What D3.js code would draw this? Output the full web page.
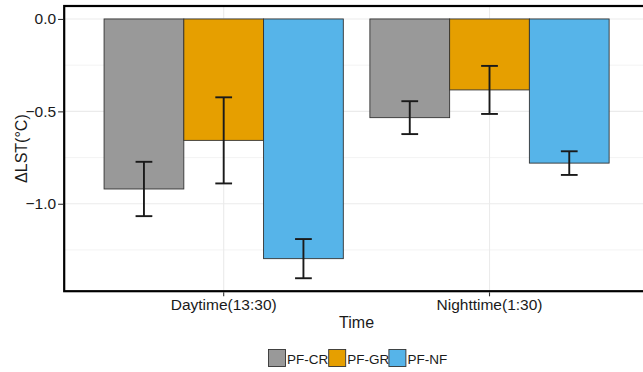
<!DOCTYPE html>
<html>
<head>
<meta charset="utf-8">
<script src="https://cdn.jsdelivr.net/npm/d3@7"></script>
<style>
  html, body { margin: 0; padding: 0; background: #fff; }
  svg { display: block; }
  text { font-family: "Liberation Sans", Arial, sans-serif; fill: #1a1a1a; }
</style>
</head>
<body>
<svg id="chart" width="643" height="372"></svg>
<script>
// Land surface temperature difference by observation time and conversion type
const times = ["Daytime(13:30)", "Nighttime(1:30)"];
const groups = ["PF-CR", "PF-GR", "PF-NF"];
const groupColors = ["#999999", "#E69F00", "#56B4E9"];
// mean ΔLST (°C), one array per group, ordered as `times`
const meanCR = [-0.92, -0.534];
const meanGR = [-0.657, -0.384];
const meanNF = [-1.297, -0.78];
// standard error, same layout
const seCR = [0.147, 0.089];
const seGR = [0.233, 0.13];
const seNF = [0.106, 0.064];
const yTicks = [0.0, -0.5, -1.0];
const yMinor = [-0.25, -0.75, -1.25];

const means = [meanCR, meanGR, meanNF];
const ses = [seCR, seGR, seNF];
const rows = [];
times.forEach((t, i) => groups.forEach((g, j) => {
  rows.push({ time: t, group: g, color: groupColors[j], mean: means[j][i], se: ses[j][i] });
}));

const svg = d3.select("#chart");
const panel = { left: 64.2, top: 6, right: 649, bottom: 291.2 };

// y extent covers bars and error bars, padded by 5%
const lo = d3.min(rows, d => d.mean - d.se);
const hi = 0;
const pad = (hi - lo) * 0.05;
const y = d3.scaleLinear().domain([lo - pad, hi + pad]).range([panel.bottom, panel.top]);

const x = d3.scaleBand().domain(times).range([panel.left, panel.right])
  .paddingInner(0.1).paddingOuter(0.15);
const xg = d3.scaleBand().domain(groups).range([0, x.bandwidth()]).padding(0);

// grid
const grid = svg.append("g");
grid.selectAll("line.minor").data(yMinor).join("line")
  .attr("x1", panel.left).attr("x2", panel.right)
  .attr("y1", d => y(d)).attr("y2", d => y(d))
  .attr("stroke", "#f0f0f0").attr("stroke-width", 0.8);
grid.selectAll("line.major").data(yTicks).join("line")
  .attr("x1", panel.left).attr("x2", panel.right)
  .attr("y1", d => y(d)).attr("y2", d => y(d))
  .attr("stroke", "#ebebeb").attr("stroke-width", 1.1);
grid.selectAll("line.vx").data(times).join("line")
  .attr("x1", d => x(d) + x.bandwidth() / 2).attr("x2", d => x(d) + x.bandwidth() / 2)
  .attr("y1", panel.top).attr("y2", panel.bottom)
  .attr("stroke", "#ebebeb").attr("stroke-width", 1.1);

// bars
svg.append("g").selectAll("rect").data(rows).join("rect")
  .attr("x", d => x(d.time) + xg(d.group))
  .attr("width", xg.bandwidth())
  .attr("y", d => y(0))
  .attr("height", d => y(d.mean) - y(0))
  .attr("fill", d => d.color)
  .attr("stroke", "#333333").attr("stroke-width", 0.9);

// error bars
const capW = xg.bandwidth() * 0.21;
const eb = svg.append("g").attr("stroke", "#1a1a1a").attr("stroke-width", 1.9).attr("fill", "none");
rows.forEach(d => {
  const cx = x(d.time) + xg(d.group) + xg.bandwidth() / 2;
  const y1 = y(d.mean + d.se), y2 = y(d.mean - d.se);
  eb.append("line").attr("x1", cx).attr("x2", cx).attr("y1", y1).attr("y2", y2);
  eb.append("line").attr("x1", cx - capW / 2).attr("x2", cx + capW / 2).attr("y1", y1).attr("y2", y1);
  eb.append("line").attr("x1", cx - capW / 2).attr("x2", cx + capW / 2).attr("y1", y2).attr("y2", y2);
});

// panel border
svg.append("rect")
  .attr("x", panel.left).attr("y", panel.top)
  .attr("width", panel.right - panel.left).attr("height", panel.bottom - panel.top)
  .attr("fill", "none").attr("stroke", "#000").attr("stroke-width", 2.2);

// y axis
const yAxis = svg.append("g").attr("transform", `translate(${panel.left - 1.1},0)`)
  .call(d3.axisLeft(y).tickValues(yTicks).tickFormat(d3.format(".1f")).tickSize(5).tickPadding(2));
yAxis.select(".domain").remove();
yAxis.selectAll(".tick line").attr("stroke", "#333").attr("stroke-width", 1.1);
yAxis.selectAll(".tick text").style("font-size", "15.5px").attr("fill", "#1a1a1a")
  .style("font-family", "'Liberation Sans', Arial, sans-serif");

// x axis
const xAxis = svg.append("g").attr("transform", `translate(0,${panel.bottom + 1.1})`)
  .call(d3.axisBottom(x).tickSize(4).tickPadding(3));
xAxis.select(".domain").remove();
xAxis.selectAll(".tick line").attr("stroke", "#333").attr("stroke-width", 1.1);
xAxis.selectAll(".tick text").style("font-size", "15.5px").attr("fill", "#1a1a1a")
  .style("font-family", "'Liberation Sans', Arial, sans-serif");

// axis titles
svg.append("text")
  .attr("x", (panel.left + panel.right) / 2).attr("y", 328.3)
  .attr("text-anchor", "middle").style("font-size", "16px").text("Time");
svg.append("text")
  .attr("transform", `translate(26.5,${(panel.top + panel.bottom) / 2}) rotate(-90)`)
  .attr("text-anchor", "middle").style("font-size", "16px").text("ΔLST(°C)");

// legend
const legend = svg.append("g").attr("transform", "translate(268.5,349.5)");
const keyStep = 60.2;
groups.forEach((g, j) => {
  const k = legend.append("g").attr("transform", `translate(${j * keyStep},0)`);
  k.append("rect").attr("width", 17).attr("height", 17)
    .attr("fill", groupColors[j]).attr("stroke", "#333").attr("stroke-width", 0.9);
  k.append("text").attr("x", 18.5).attr("y", 14.3).style("font-size", "13.5px").text(g);
});
</script>
</body>
</html>
